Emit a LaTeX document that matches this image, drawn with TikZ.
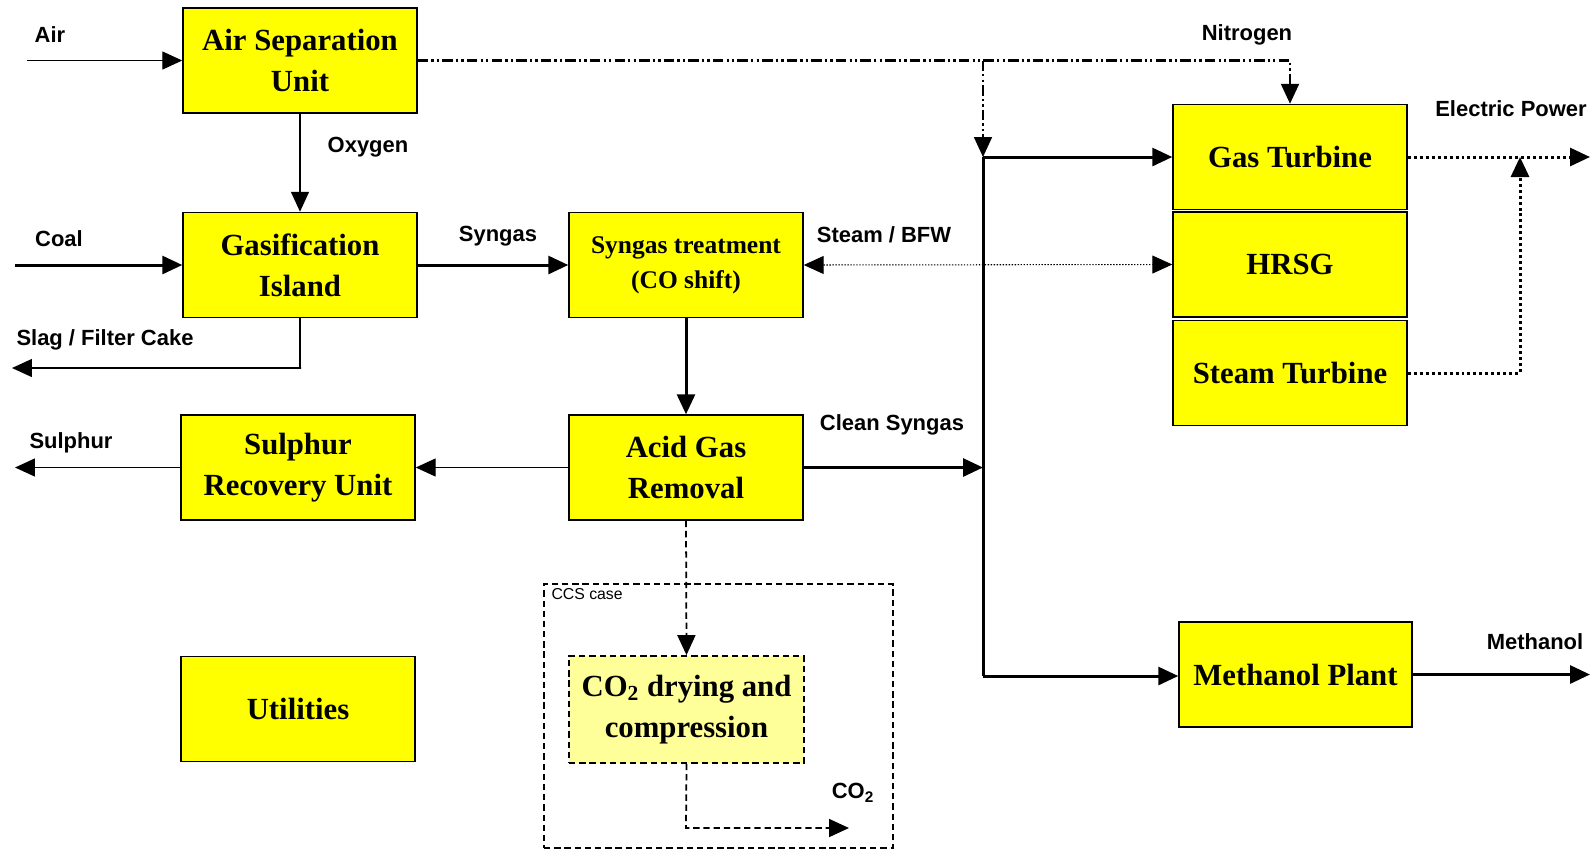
\documentclass[tikz,border=0pt]{standalone}
\usepackage{fontspec}
\setmainfont{Liberation Serif}
\setsansfont{Liberation Sans}
\usetikzlibrary{arrows.meta,positioning}
\definecolor{UnitYellow}{HTML}{FFFF00}
\definecolor{PaleYellow}{HTML}{FFFF99}

\begin{document}
\begin{tikzpicture}[
  x=0.02cm,
  y=-0.02cm,
  >={Triangle[length=0.40cm,width=0.36cm]},
  unit/.style={
    draw=black,
    line width=0.85pt,
    fill=UnitYellow,
    minimum width=4.68cm,
    minimum height=2.10cm,
    inner sep=0pt,
    align=center,
    font=\bfseries\fontsize{17.5}{23.5}\selectfont
  },
  stream/.style={font=\sffamily\bfseries\fontsize{12.5}{14}\selectfont},
  thinflow/.style={line width=0.8pt},
  thickflow/.style={line width=1.7pt},
  nitro/.style={line width=1.3pt,
    dash pattern=on 6pt off 1.8pt on 1.3pt off 1.8pt on 1.3pt off 1.8pt},
  steamline/.style={line width=0.6pt,dash pattern=on 0.8pt off 0.9pt},
  power/.style={line width=1.7pt,dash pattern=on 1.7pt off 1.7pt},
  ccsline/.style={line width=1pt,dash pattern=on 3.6pt off 2.2pt}
]
\useasboundingbox (0,0) rectangle (1593,850);

% Process units.
\node[unit] (asu) at (300,60.5) {Air Separation\\Unit};
\node[unit] (gasif) at (300,265) {Gasification\\Island};
\node[unit,font=\bfseries\fontsize{14.5}{20}\selectfont] (treat) at (686,265)
  {Syngas treatment\\(CO shift)};
\node[unit] (agr) at (686,467.5) {Acid Gas\\Removal};
\node[unit] (sru) at (298,467.5) {Sulphur\\Recovery Unit};
\node[unit] (util) at (298,709) {Utilities};
\node[unit] (gt) at (1290,157) {Gas Turbine};
\node[unit] (hrsg) at (1290,264.5) {HRSG};
\node[unit] (stt) at (1290,373) {Steam Turbine};
\node[unit,minimum width=4.66cm] (meoh) at (1295.5,674.5) {Methanol Plant};

% CCS case.
\node[draw,ccsline,minimum width=6.98cm,minimum height=5.28cm,inner sep=0pt]
  (ccs) at (718.5,716) {};
\node[font=\sffamily\fontsize{9}{10}\selectfont,anchor=north west,inner sep=0pt]
  (ccslabel) at ([xshift=0.16cm,yshift=-0.10cm]ccs.north west) {CCS case};
\node[unit,ccsline,fill=PaleYellow,minimum width=4.70cm,minimum height=2.14cm]
  (dry) at (686.5,709.5) {CO\textsubscript{2} drying and\\compression};

% Junction points.
\coordinate (bustop) at (983,157);
\coordinate (busbot) at (983,676);
\coordinate (powerjoin) at (1520,157);
\coordinate (powerout) at (1590,157);
\coordinate (meohout) at (1590,674.5);
\coordinate (airin) at (27,60.5);
\coordinate (coalin) at (15,265);
\coordinate (slagbend) at (301,368);
\coordinate (slagout) at (12,368);
\coordinate (sulphurout) at (15,467.5);
\coordinate (co2bend) at (686,828);
\coordinate (co2out) at (849,828);

% Main streams.
\draw[thinflow,->] (airin) -- (asu.west);
\draw[thinflow,->] (asu.south) -- (gasif.north);
\draw[thickflow,->] (coalin) -- (gasif.west);
\draw[thickflow,->] (gasif.east) -- (treat.west);
\draw[thinflow,->] (gasif.south) |- (slagbend) -- (slagout);
\draw[thickflow,->] (treat.south) -- (agr.north);
\draw[thinflow,->] (agr.west) -- (sru.east);
\draw[thinflow,->] (sru.west) -- (sulphurout);
\draw[thickflow,->] (agr.east) -- (agr.east -| bustop);
\draw[thickflow] (bustop) -- (busbot);
\draw[thickflow,->] (bustop) -- (gt.west);
\draw[thickflow,->] (busbot) -- (busbot -| meoh.west);
\draw[thickflow,->] (meoh.east) -- (meohout);

% Nitrogen, steam and power.
\draw[nitro,->] (asu.east) -- (asu.east -| gt.north) -- (gt.north);
\draw[nitro,line width=1pt,->] (asu.east -| bustop) -- (bustop);
\draw[steamline,<->] (treat.east) -- (hrsg.west);
\draw[power,->] (gt.east) -- (powerout);
\draw[power,->] (stt.east) -| (powerjoin);

% CO2 line.
\draw[ccsline,->] (agr.south) -- (dry.north);
\draw[ccsline,->] (dry.south) -- (co2bend) -- (co2out);

% Stream labels.
\node[stream] (airlabel) at (50,35) {Air};
\node[stream] (oxylabel) at (368,147) {Oxygen};
\node[stream] (coallabel) at (59,239) {Coal};
\node[stream] (syngaslabel) at (498,236) {Syngas};
\node[stream] (slaglabel) at (105,340) {Slag / Filter Cake};
\node[stream] (sulphurlabel) at (71,443) {Sulphur};
\node[stream] (steamlabel) at (884,235) {Steam / BFW};
\node[stream] (cleanlabel) at (892,425) {Clean Syngas};
\node[stream] (nitrolabel) at (1247,35) {Nitrogen};
\node[stream] (powerlabel) at (1511,109) {Electric Power};
\node[stream] (meohlabel) at (1535,642) {Methanol};
\node[stream] (co2label) at (853,793) {CO\textsubscript{2}};
\end{tikzpicture}
\end{document}
